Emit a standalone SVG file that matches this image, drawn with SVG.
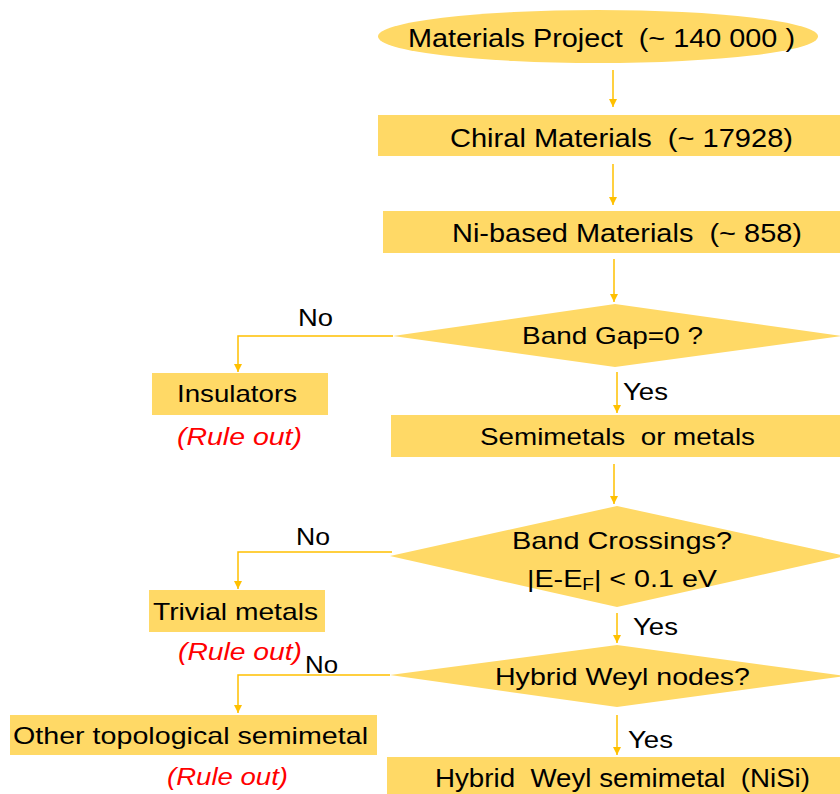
<svg xmlns="http://www.w3.org/2000/svg" width="840" height="794" viewBox="0 0 840 794">
<style>
.box{fill:#FFD966;}
.t{font-family:"Liberation Sans",Arial,sans-serif;font-size:24px;fill:#000;}
.big{font-size:26px;}
.r{font-family:"Liberation Sans",Arial,sans-serif;font-size:24px;font-style:italic;fill:#FF0000;}
.c{fill:none;stroke:#FFC000;stroke-width:1.5;}
</style>
<defs>
<marker id="ah" markerUnits="userSpaceOnUse" markerWidth="9" markerHeight="9" refX="8" refY="4" orient="auto">
<path d="M0,0 L8,4 L0,8 z" fill="#FFC000"/>
</marker>
</defs>
<rect width="840" height="794" fill="#fff"/>
<g id="connectors">
<line class="c" x1="613" y1="70" x2="613" y2="107" marker-end="url(#ah)"/>
<line class="c" x1="613" y1="164" x2="613" y2="205" marker-end="url(#ah)"/>
<line class="c" x1="614" y1="259" x2="614" y2="302" marker-end="url(#ah)"/>
<line class="c" x1="617" y1="372" x2="617" y2="413" marker-end="url(#ah)"/>
<polyline class="c" points="393,336 238,336 238,372" marker-end="url(#ah)"/>
<line class="c" x1="614" y1="464" x2="614" y2="504" marker-end="url(#ah)"/>
<polyline class="c" points="392,552 238,552 238,589" marker-end="url(#ah)"/>
<line class="c" x1="617" y1="613" x2="617" y2="643" marker-end="url(#ah)"/>
<polyline class="c" points="390,675 238,675 238,713" marker-end="url(#ah)"/>
<line class="c" x1="617" y1="715" x2="617" y2="755" marker-end="url(#ah)"/>
<text class="t" x="298" y="326" textLength="35" lengthAdjust="spacingAndGlyphs">No</text>
<text class="t" x="623" y="400" textLength="45" lengthAdjust="spacingAndGlyphs">Yes</text>
<text class="t" x="296" y="545" textLength="34" lengthAdjust="spacingAndGlyphs">No</text>
<text class="t" x="633" y="635" textLength="45" lengthAdjust="spacingAndGlyphs">Yes</text>
<text class="t" x="305" y="673" textLength="33" lengthAdjust="spacingAndGlyphs">No</text>
<text class="t" x="628" y="748" textLength="45" lengthAdjust="spacingAndGlyphs">Yes</text>
</g>
<g id="materials-project">
<ellipse class="box" cx="598" cy="36.5" rx="220" ry="26.5"/>
<text class="t big" x="408" y="47" textLength="387" lengthAdjust="spacingAndGlyphs" xml:space="preserve">Materials Project  (~ 140 000 )</text>
</g>
<g id="chiral">
<rect class="box" x="378" y="115" width="470" height="41"/>
<text class="t big" x="450" y="147" textLength="343" lengthAdjust="spacingAndGlyphs" xml:space="preserve">Chiral Materials  (~ 17928)</text>
</g>
<g id="ni-based">
<rect class="box" x="383" y="211" width="465" height="42"/>
<text class="t big" x="452" y="242" textLength="350" lengthAdjust="spacingAndGlyphs" xml:space="preserve">Ni-based Materials  (~ 858)</text>
</g>
<g id="band-gap">
<polygon class="box" points="393,336 615,304 842,336 615,367"/>
<text class="t" x="522" y="344" textLength="181" lengthAdjust="spacingAndGlyphs">Band Gap=0 ?</text>
</g>
<g id="insulators">
<rect class="box" x="152" y="373" width="176" height="42"/>
<text class="t" x="177" y="402" textLength="120" lengthAdjust="spacingAndGlyphs">Insulators</text>
<text class="r" x="177" y="445" textLength="125" lengthAdjust="spacingAndGlyphs">(Rule out)</text>
</g>
<g id="semimetals">
<rect class="box" x="391" y="415" width="457" height="42"/>
<text class="t" x="480" y="445" textLength="275" lengthAdjust="spacingAndGlyphs" xml:space="preserve">Semimetals  or metals</text>
</g>
<g id="band-crossings">
<polygon class="box" points="390,556 617,506 846,556 617,607"/>
<text class="t" x="512" y="549" textLength="220" lengthAdjust="spacingAndGlyphs">Band Crossings?</text>
<text class="t" x="527" y="587" textLength="190" lengthAdjust="spacingAndGlyphs">|E-E<tspan font-size="16" dy="3">F</tspan><tspan dy="-3">| &lt; 0.1 eV</tspan></text>
</g>
<g id="trivial-metals">
<rect class="box" x="149" y="590" width="176" height="42"/>
<text class="t" x="153" y="620" textLength="165" lengthAdjust="spacingAndGlyphs">Trivial metals</text>
<text class="r" x="178" y="660" textLength="124" lengthAdjust="spacingAndGlyphs">(Rule out)</text>
</g>
<g id="hybrid-weyl-nodes">
<polygon class="box" points="390,675 617,645 846,676 617,707"/>
<text class="t" x="495" y="685" textLength="255" lengthAdjust="spacingAndGlyphs">Hybrid Weyl nodes?</text>
</g>
<g id="other-topological">
<rect class="box" x="10" y="715" width="367" height="40"/>
<text class="t" x="13" y="744" textLength="355" lengthAdjust="spacingAndGlyphs">Other topological semimetal</text>
<text class="r" x="167" y="785" textLength="121" lengthAdjust="spacingAndGlyphs">(Rule out)</text>
</g>
<g id="hybrid-weyl-semimetal">
<rect class="box" x="387" y="757" width="461" height="45"/>
<text class="t big" x="435" y="787" textLength="375" lengthAdjust="spacingAndGlyphs" xml:space="preserve">Hybrid  Weyl semimetal  (NiSi)</text>
</g>
</svg>
